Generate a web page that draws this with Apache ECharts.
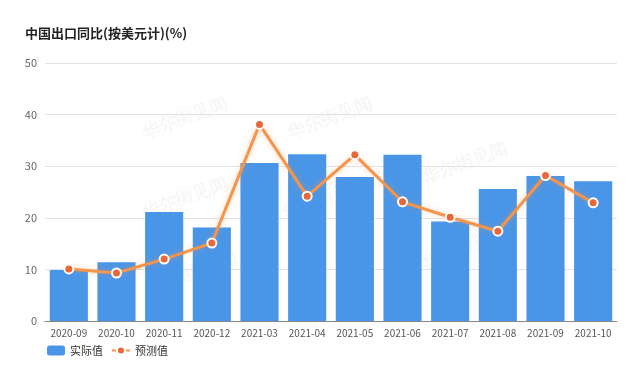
<!DOCTYPE html>
<html>
<head>
<meta charset="utf-8">
<script src="https://cdn.jsdelivr.net/npm/echarts@6/dist/echarts.min.js"></script>
<style>html,body{margin:0;padding:0;background:#fff}#c{width:640px;height:369px}</style>
</head>
<body>
<div id="c"></div>
<script>
const categories = ['2020-09','2020-10','2020-11','2020-12','2021-03','2021-04','2021-05','2021-06','2021-07','2021-08','2021-09','2021-10'];
const actual = [9.9, 11.4, 21.1, 18.1, 30.6, 32.3, 27.9, 32.2, 19.3, 25.6, 28.1, 27.1];
const forecast = [10.1, 9.3, 12.0, 15.1, 38.1, 24.2, 32.2, 23.1, 20.1, 17.4, 28.2, 22.9];
const yTicks = [0, 10, 20, 30, 40, 50];

const chart = echarts.init(document.getElementById('c'), null, {renderer: 'canvas'});
const font = '"Noto Sans CJK SC", "Noto Sans", sans-serif';
const wm = [];
const wmPos = [[140,95],[140,175],[150,250],[285,95],[280,175],[420,140],[420,225]];
wmPos.forEach(p => wm.push({
  type: 'text', left: p[0], top: p[1], rotation: Math.PI/9, z: -1,
  style: {text: '华尔街见闻', fill: 'rgba(0,0,0,0.035)', font: 'bold 18px serif'}
}));
chart.setOption({
  animation: false,
  backgroundColor: '#fff',
  title: {
    text: '中国出口同比(按美元计)(%)', left: 20, top: 22,
    textStyle: {fontFamily: font, fontSize: 13, fontWeight: 'bold', color: '#222'}
  },
  graphic: wm,
  legend: {
    left: 42, bottom: 8, itemGap: 8, itemWidth: 18, itemHeight: 10,
    textStyle: {fontFamily: font, fontSize: 11, color: '#333'},
    data: [{name: '实际值', icon: 'roundRect'}, {name: '预测值'}]
  },
  grid: {left: 45, right: 23, top: 63, bottom: 48},
  xAxis: {
    type: 'category', data: categories,
    axisTick: {show: false},
    axisLine: {lineStyle: {color: '#888', width: 1}},
    axisLabel: {color: '#555', fontSize: 10, fontFamily: font, margin: 7, interval: 0}
  },
  yAxis: {
    type: 'value', min: yTicks[0], max: yTicks[yTicks.length-1], interval: 10,
    axisLine: {show: false}, axisTick: {show: false},
    axisLabel: {color: '#666', fontSize: 11, fontFamily: font, margin: 8},
    splitLine: {lineStyle: {color: '#e3e3e3'}}
  },
  series: [
    {
      name: '实际值', type: 'bar', data: actual, barCategoryGap: '20%',
      itemStyle: {color: '#4996E8'}
    },
    {
      name: '预测值', type: 'line', data: forecast,
      symbol: 'circle', symbolSize: 9,
      lineStyle: {color: '#F5944A', width: 3, shadowColor: 'rgba(245,148,74,0.4)', shadowBlur: 6},
      itemStyle: {color: '#E8683A', borderColor: '#fff', borderWidth: 2}
    }
  ]
});
</script>
</body>
</html>
